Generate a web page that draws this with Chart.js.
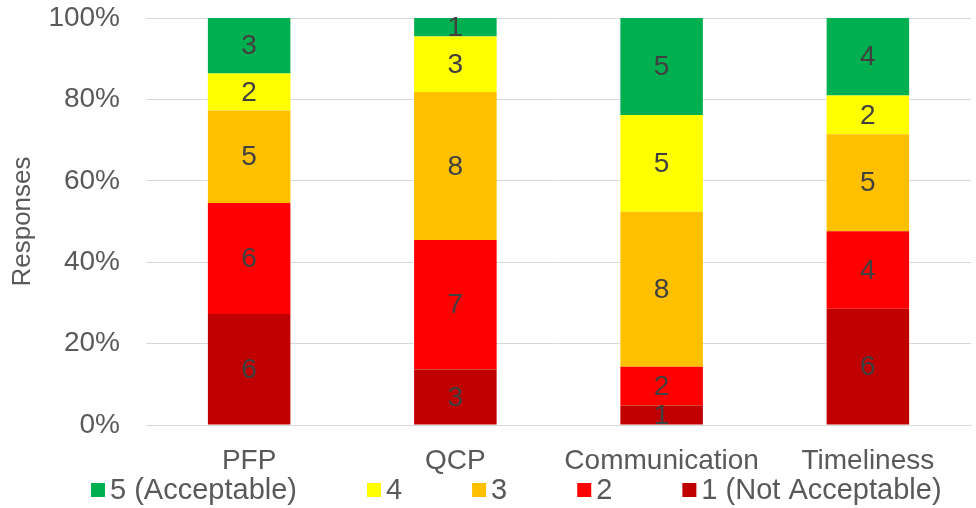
<!DOCTYPE html>
<html>
<head>
<meta charset="utf-8">
<script src="https://cdn.jsdelivr.net/npm/chart.js@4/dist/chart.umd.min.js"></script>
<style>
html,body{margin:0;padding:0;background:#fff;}
#wrap{width:976px;height:508px;position:relative;}
</style>
</head>
<body>
<div id="wrap"><canvas id="c" width="976" height="508"></canvas></div>
<script>
const categories = ["PFP", "QCP", "Communication", "Timeliness"];
const seriesNames = ["1 (Not Acceptable)", "2", "3", "4", "5 (Acceptable)"];
const seriesColors = ["#C00000", "#FF0000", "#FFC000", "#FFFF00", "#00B050"];
const counts1 = [6, 3, 1, 6];
const counts2 = [6, 7, 2, 4];
const counts3 = [5, 8, 8, 5];
const counts4 = [2, 3, 5, 2];
const counts5 = [3, 1, 5, 4];
const yTicks = [0, 20, 40, 60, 80, 100];

const allCounts = [counts1, counts2, counts3, counts4, counts5];
const totals = categories.map((_, i) => allCounts.reduce((s, a) => s + a[i], 0));

const FONT = "'Liberation Sans', Arial, sans-serif";
const TXT = "#595959";

const datasets = allCounts.map((arr, k) => ({
  label: seriesNames[k],
  data: arr.map((v, i) => v / totals[i] * 100),
  counts: arr,
  backgroundColor: seriesColors[k],
  borderWidth: 0,
  categoryPercentage: 1,
  barPercentage: 0.4
}));

const labelPlugin = {
  id: 'segLabels',
  afterDatasetsDraw(chart) {
    const ctx = chart.ctx;
    ctx.save();
    ctx.font = "28px " + FONT;
    ctx.fillStyle = "#404040";
    ctx.textAlign = "center";
    ctx.textBaseline = "middle";
    chart.data.datasets.forEach((ds, di) => {
      const meta = chart.getDatasetMeta(di);
      meta.data.forEach((bar, i) => {
        const c = ds.counts[i];
        if (!c) return;
        const y = (bar.y + bar.base) / 2;
        ctx.fillText(String(c), bar.x, y + 1);
      });
    });
    ctx.restore();
  }
};

const legendPlugin = {
  id: 'customLegend',
  afterDraw(chart) {
    const ctx = chart.ctx;
    ctx.save();
    ctx.font = "29px " + FONT;
    ctx.textBaseline = "middle";
    ctx.textAlign = "left";
    let x = 91;
    const y = 490;
    const order = [4, 3, 2, 1, 0];
    order.forEach(k => {
      const ds = chart.data.datasets[k];
      ctx.fillStyle = ds.backgroundColor;
      ctx.fillRect(x, y - 7, 14, 14);
      ctx.fillStyle = TXT;
      const tx = x + 14 + 5;
      ctx.fillText(ds.label, tx, y + 1);
      x = tx + ctx.measureText(ds.label).width + 70;
    });
    ctx.restore();
  }
};

new Chart(document.getElementById('c'), {
  type: 'bar',
  data: { labels: categories, datasets: datasets },
  plugins: [labelPlugin, legendPlugin],
  options: {
    responsive: false,
    animation: false,
    devicePixelRatio: 1,
    layout: { padding: { top: 18, right: 5, bottom: 25, left: 0 } },
    plugins: {
      legend: { display: false },
      tooltip: { enabled: false }
    },
    scales: {
      x: {
        stacked: true,
        grid: { display: false, drawTicks: false },
        border: { display: true, color: "#D9D9D9", width: 1 },
        ticks: { color: TXT, font: { family: FONT, size: 28 }, padding: 19, maxRotation: 0, autoSkip: false },
        afterFit(scale) { scale.height = 58; scale.paddingTop = 0; scale.paddingBottom = 0; }
      },
      y: {
        stacked: true,
        min: 0,
        max: 100,
        afterBuildTicks(scale) { scale.ticks = yTicks.map(v => ({ value: v })); },
        grid: { color: "#D9D9D9", lineWidth: 1, drawTicks: false },
        border: { display: false },
        ticks: {
          color: TXT,
          font: { family: FONT, size: 28 },
          padding: 26,
          callback: v => v + "%"
        },
        title: {
          display: true,
          text: "Responses",
          color: TXT,
          font: { family: FONT, size: 26 },
          padding: { top: 7, bottom: 0 }
        },
        afterFit(scale) { scale.width = 146; scale.paddingTop = 0; scale.paddingBottom = 0; }
      }
    }
  }
});
</script>
</body>
</html>
